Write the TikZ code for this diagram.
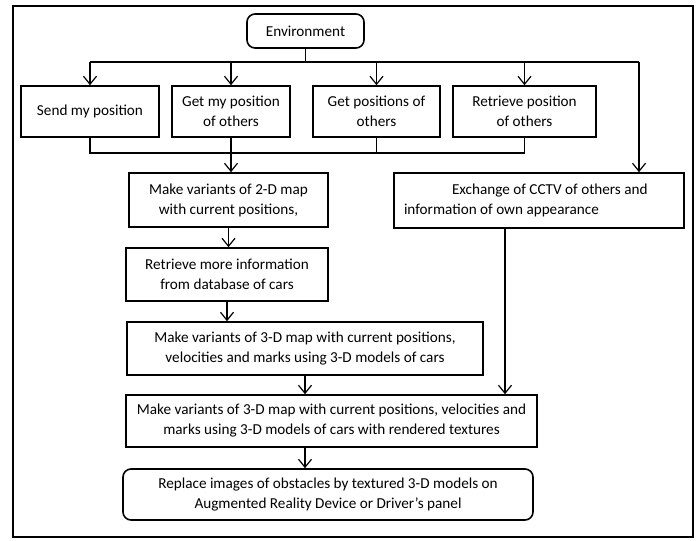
\documentclass[tikz,border=0pt]{standalone}
\usepackage{fontspec}
\setmainfont{Carlito}
\usetikzlibrary{arrows.meta}

\begin{document}
\begin{tikzpicture}[x=0.5pt,y=-0.5pt,->,>={Straight Barb[length=4pt,width=6.5pt]},line width=0.6pt,
   every node/.style={font=\fontsize{7.6}{10}\selectfont},
   blok/.style={draw,line width=0.8pt,-,align=center,inner sep=2pt},
   rblok/.style={blok,rounded corners=4pt}]
   \useasboundingbox (0,0) rectangle (700,540);
   \draw[-,line width=0.8pt] (13,6) rectangle (693,537);

   \node[rblok,minimum width=58.5pt,minimum height=17pt] (env) at (305.5,31) {Environment};
   \node[blok,minimum width=69pt,minimum height=25.5pt] (send) at (90,111.5) {Send my position};
   \node[blok,minimum width=59pt,minimum height=25.5pt] (getmy) at (231,111.5) {Get my position\\of others};
   \node[blok,minimum width=63.5pt,minimum height=25.5pt] (getpos) at (376.5,111.5) {Get positions of\\others};
   \node[blok,minimum width=71.5pt,minimum height=25.5pt] (retr) at (524.5,111.5) {Retrieve position\\of others};
   \node[blok,minimum width=99.5pt,minimum height=27pt] (twod) at (228.5,200) {Make variants of 2-D map\\with current positions,};
   \node[blok,minimum height=27.5pt,text width=135pt,align=flush left,inner sep=5pt] (exch) at (539,200.5)
      {\hspace*{24pt}Exchange of CCTV of others and\\information of own appearance};
   \node[blok,minimum width=101pt,minimum height=26.5pt] (info) at (227,274.5) {Retrieve more information\\from database of cars};
   \node[blok,minimum width=178pt,minimum height=26.5pt] (map3) at (305,348.5) {Make variants of 3-D map with current positions,\\velocities and marks using 3-D models of cars};
   \node[blok,minimum width=205.5pt,minimum height=26pt] (rend) at (331.5,421) {Make variants of 3-D map with current positions, velocities and\\marks using 3-D models of cars with rendered textures};
   \node[rblok,minimum width=205pt,minimum height=25.5pt] (repl) at (328,494.5) {Replace images of obstacles by textured 3-D models on\\Augmented Reality Device or Driver's panel};

   % top distribution
   \coordinate (t0) at (90,62);
   \coordinate (t4) at (639,62);
   \coordinate (c0) at (90,153);
   \coordinate (ex) at (505,0);
   \draw[-] (env.south) -- (env.south |- t0);
   \draw[-] (t0) -- (t4);
   \foreach \n in {send,getmy,getpos,retr}
      \draw (\n.north |- t0) -- (\n.north);
   \draw (t4) -- (t4 |- exch.north);

   % collecting line
   \draw[-] (send.south) |- (retr.south |- c0) -- (retr.south);
   \draw[-] (getpos.south) -- (getpos.south |- c0);
   \draw (getmy.south) -- (getmy.south |- twod.north);

   \draw (twod.south) -- (twod.south |- info.north);
   \draw (info.south) -- (info.south |- map3.north);
   \draw (map3.south) -- (map3.south |- rend.north);
   \draw (exch.south -| ex) -- (rend.north -| ex);
   \draw (rend.south -| map3.south) -- (map3.south |- repl.north);
\end{tikzpicture}
\end{document}
